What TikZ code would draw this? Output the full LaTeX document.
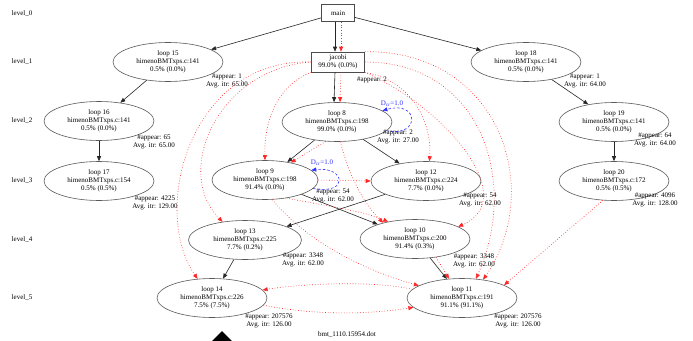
\documentclass[tikz,border=0pt]{standalone}
\usepackage{fontspec}
\setmainfont{Liberation Serif}
\usetikzlibrary{shapes.geometric,arrows.meta}
\begin{document}
\begin{tikzpicture}[x=1pt,y=-1pt,
  every node/.style={font=\fontsize{7}{8}\selectfont, inner sep=0pt},
  loopnode/.style={draw=black!65, line width=0.6pt, ellipse, minimum width=110pt, minimum height=39pt, align=center},
  boxnode/.style={draw=black!70, line width=0.6pt, rectangle, align=center},
  lvl/.style={anchor=center},
  info/.style={align=center},
  tree/.style={draw=black!85, line width=0.6pt, -{Triangle[length=5pt,width=4pt]}},
  dep/.style={draw=red!55, line width=0.6pt, dash pattern=on 0.7pt off 2pt, -{Triangle[length=5pt,width=4pt]}, red!85},
  self/.style={draw=blue!80, line width=0.6pt, dash pattern=on 2.5pt off 2pt, -{Triangle[length=5pt,width=4pt]}, blue!80},
  dlabel/.style={text=blue!80}]
\useasboundingbox (0,0) rectangle (693,340);
\fill[white] (0,0) rectangle (693,340);

% level labels
\node[lvl] (lv0) at (22,14)  {level\_0};
\node[lvl] (lv1) at (22,62)  {level\_1};
\node[lvl] (lv2) at (22,121) {level\_2};
\node[lvl] (lv3) at (22,181) {level\_3};
\node[lvl] (lv4) at (22,240) {level\_4};
\node[lvl] (lv5) at (22,298) {level\_5};

% loop tree nodes
\node[boxnode, minimum width=33pt, minimum height=17pt] (main) at (338,13) {main};
\node[boxnode, minimum width=53pt, minimum height=20pt] (jacobi) at (338,62) {jacobi\\99.0\% (0.0\%)};
\node[loopnode] (l15) at (168,62)  {loop 15\\himenoBMTxps.c:141\\0.5\% (0.0\%)};
\node[loopnode] (l18) at (526,62)  {loop 18\\himenoBMTxps.c:141\\0.5\% (0.0\%)};
\node[loopnode] (l16) at (99,121)  {loop 16\\himenoBMTxps.c:141\\0.5\% (0.0\%)};
\node[loopnode] (l8)  at (337,122) {loop 8\\himenoBMTxps.c:198\\99.0\% (0.0\%)};
\node[loopnode] (l19) at (614,122) {loop 19\\himenoBMTxps.c:141\\0.5\% (0.0\%)};
\node[loopnode] (l17) at (99,181)  {loop 17\\himenoBMTxps.c:154\\0.5\% (0.5\%)};
\node[loopnode, minimum width=106pt] (l9) at (265,180) {loop 9\\himenoBMTxps.c:198\\91.4\% (0.0\%)};
\node[loopnode] (l12) at (426,181) {loop 12\\himenoBMTxps.c:224\\7.7\% (0.0\%)};
\node[loopnode] (l20) at (614,181) {loop 20\\himenoBMTxps.c:172\\0.5\% (0.5\%)};
\node[loopnode, minimum width=113pt] (l13) at (245,240) {loop 13\\himenoBMTxps.c:225\\7.7\% (0.2\%)};
\node[loopnode] (l10) at (415,239) {loop 10\\himenoBMTxps.c:200\\91.4\% (0.3\%)};
\node[loopnode] (l14) at (212,298) {loop 14\\himenoBMTxps.c:226\\7.5\% (7.5\%)};
\node[loopnode] (l11) at (462,298) {loop 11\\himenoBMTxps.c:191\\91.1\% (91.1\%)};

% per-loop statistics
\node[info] (a15) at (227,81)  {\#appear: 1\\Avg. itr: 65.00};
\node[info] (aj)  at (372,80)  {\#appear: 2};
\node[info] (a18) at (585,81)  {\#appear: 1\\Avg. itr: 64.00};
\node[info] (a16) at (154,142) {\#appear: 65\\Avg. itr: 65.00};
\node[info] (a8)  at (398,137) {\#appear: 2\\Avg. itr: 27.00};
\node[info] (a19) at (655,140) {\#appear: 64\\Avg. itr: 64.00};
\node[info] (a17) at (155,203) {\#appear: 4225\\Avg. itr: 129.00};
\node[info] (a9)  at (333,196) {\#appear: 54\\Avg. itr: 62.00};
\node[info] (a12) at (480,200) {\#appear: 54\\Avg. itr: 62.00};
\node[info] (a20) at (655,200) {\#appear: 4096\\Avg. itr: 128.00};
\node[info] (a13) at (303,260) {\#appear: 3348\\Avg. itr: 62.00};
\node[info] (a10) at (474,261) {\#appear: 3348\\Avg. itr: 62.00};
\node[info] (a14) at (269,321) {\#appear: 207576\\Avg. itr: 126.00};
\node[info] (a11) at (518,321) {\#appear: 207576\\Avg. itr: 126.00};

\node (fname) at (347,335) {bmt\_1110.15954.dot};

% nesting edges
\draw[tree] (main) -- (l15);
\draw[tree] (main) -- (l18);
\draw[tree] ([xshift=-3pt]main.south) -- ([xshift=-3pt]jacobi.north);
\draw[tree] ([xshift=-3pt]jacobi.south) -- ([xshift=-3pt]l8.north);
\draw[tree] (l15) -- (l16);
\draw[tree] (l16) -- (l17);
\draw[tree] (l18) -- (l19);
\draw[tree] (l19) -- (l20);
\draw[tree] (l8) -- (l9);
\draw[tree] (l8) -- (l12);
\draw[tree] (l12) -- (l13);
\draw[tree] (l9) -- (l10);
\draw[tree] (l13) -- (l14);
\draw[tree] (l10) -- (l11);

% dependence edges
\draw[dep] ([xshift=3pt]main.south) -- ([xshift=3pt]jacobi.north);
\draw[dep] ([xshift=3pt]jacobi.south) -- ([xshift=3pt]l8.north);
\draw[dep] (jacobi.south west) .. controls (278,85) and (264,120) .. (l9.90);
\draw[dep] (jacobi.west) .. controls (220,68) and (172,170) .. (l13.141);
\draw[dep] (jacobi.west) .. controls (190,58) and (150,210) .. (l14.127);
\draw[dep] (jacobi.south east) .. controls (410,80) and (432,120) .. (l12.80);
\draw[dep] (jacobi.south east) .. controls (450,110) and (520,200) .. (l10.16);
\draw[dep] (jacobi.east) .. controls (480,62) and (520,180) .. (l11.54);
\draw[dep] (jacobi.north east) .. controls (500,50) and (545,190) .. (l11.41);
\draw[dep] (l8.-120) -- (l9.34);
\draw[dep] (l8.-80) .. controls (348,175) and (365,205) .. (l10.153);
\draw[dep] (l9.-40) .. controls (320,205) and (360,210) .. (l10.147);
\draw[dep] (l9.east) -- (l12.west);
\draw[dep] (l10.-41) -- (l11.124);
\draw[dep] (l9.-70) .. controls (310,245) and (370,272) .. (l11.164);
\draw[dep] (l11.170) .. controls (370,280) and (300,284) .. (l14.9);
\draw[dep] (l14.-8) .. controls (320,316) and (370,314) .. (l11.191);
\draw[dep] (l20.-120) -- (l11.17);

% carried dependences
\draw[self] (l8.-10) .. controls (420,138) and (420,100) .. (l8.14);
\node[dlabel] (d8) at (392,104) {D$_{\mathrm{cr}}$=1.0};
\draw[self] (l9.-10) .. controls (350,195) and (345,166) .. (l9.12);
\node[dlabel] (d9) at (322,163) {D$_{\mathrm{cr}}$=1.0};

% pointer glyph at the bottom edge
\begin{scope}
\clip (0,0) rectangle (693,340);
\fill[black] (222,331) -- (236,345) -- (222,359) -- (208,345) -- cycle;
\end{scope}
\end{tikzpicture}
\end{document}
